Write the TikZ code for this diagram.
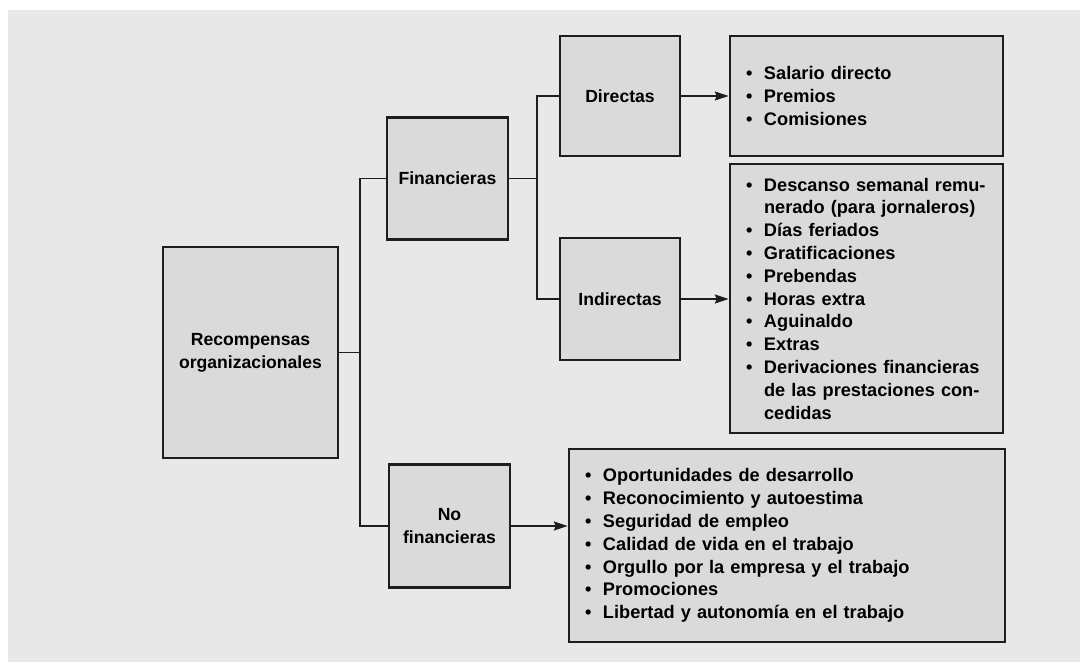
\documentclass[tikz,border=0pt]{standalone}
\usepackage{fontspec}
\setmainfont{Liberation Sans}
\usetikzlibrary{arrows.meta,positioning,calc}

\definecolor{bgrey}{HTML}{E8E8E8}
\definecolor{boxgrey}{HTML}{DADADA}
\definecolor{edge}{HTML}{1E1E1E}

\newcommand{\bul}{\makebox[9pt][l]{\textbullet}}
\newcommand{\cont}{\hspace*{9pt}}

\begin{document}
\begin{tikzpicture}[x=0.5pt, y=-0.5pt, >={Stealth[length=7pt,width=4.5pt,inset=1pt]},
	semithick, font=\bfseries]
	\tikzstyle{catbox}=[draw=edge, fill=boxgrey, line width=1.2pt, align=center,
		inner sep=0pt, font=\fontsize{8.8}{11.5}\selectfont\bfseries]
	\tikzstyle{listbox}=[draw=edge, fill=boxgrey, line width=1.2pt, align=left,
		inner xsep=8pt, inner ysep=0pt, font=\fontsize{9.1}{11.4}\selectfont\bfseries]
	\tikzstyle{link}=[draw=edge, line width=0.9pt]
	% fondo
	\useasboundingbox (0,0) rectangle (1080,662);
	\fill[bgrey] (8,10) rectangle (1080,662);
	% categorias
	\node[catbox, minimum width=87.5pt, minimum height=105.5pt] (rec)   at (250.5,352.5) {Recompensas\\organizacionales};
	\node[catbox, minimum width=60.5pt, minimum height=61pt]    (fin)   at (447.5,178.5) {Financieras};
	\node[catbox, minimum width=60.5pt, minimum height=61.5pt]  (nofin) at (449.5,526)   {No\\financieras};
	\node[catbox, minimum width=60pt,   minimum height=60pt]    (dir)   at (620,96)      {Directas};
	\node[catbox, minimum width=60pt,   minimum height=61pt]    (ind)   at (620,299)     {Indirectas};
	% listas
	\node[listbox, text width=120.5pt, minimum height=60pt] (dirlist) at (866.5,96) {%
		\bul Salario directo\\
		\bul Premios\\
		\bul Comisiones};
	\node[listbox, text width=120.5pt, minimum height=134.5pt] (indlist) at (866.5,298.5) {%
		\bul Descanso semanal remu-\\
		\cont nerado (para jornaleros)\\
		\bul Días feriados\\
		\bul Gratificaciones\\
		\bul Prebendas\\
		\bul Horas extra\\
		\bul Aguinaldo\\
		\bul Extras\\
		\bul Derivaciones financieras\\
		\cont de las prestaciones con-\\
		\cont cedidas};
	\node[listbox, text width=202pt, minimum height=96.5pt] (nofinlist) at (787,545.5) {%
		\bul Oportunidades de desarrollo\\
		\bul Reconocimiento y autoestima\\
		\bul Seguridad de empleo\\
		\bul Calidad de vida en el trabajo\\
		\bul Orgullo por la empresa y el trabajo\\
		\bul Promociones\\
		\bul Libertad y autonomía en el trabajo};
	% conectores
	\coordinate (j1) at (360,352.5);
	\coordinate (j2) at (537,178.5);
	\path[link] (fin.west) -| (j1) |- (nofin.west);
	\path[link] (rec.east) -- (j1);
	\path[link] (dir.west) -| (j2) |- (ind.west);
	\path[link] (fin.east) -- (j2);
	\path[link, ->] (dir.east) -- (dir.east -| dirlist.west);
	\path[link, ->] (ind.east) -- (ind.east -| indlist.west);
	\path[link, ->] (nofin.east) -- (nofin.east -| nofinlist.west);
\end{tikzpicture}
\end{document}
